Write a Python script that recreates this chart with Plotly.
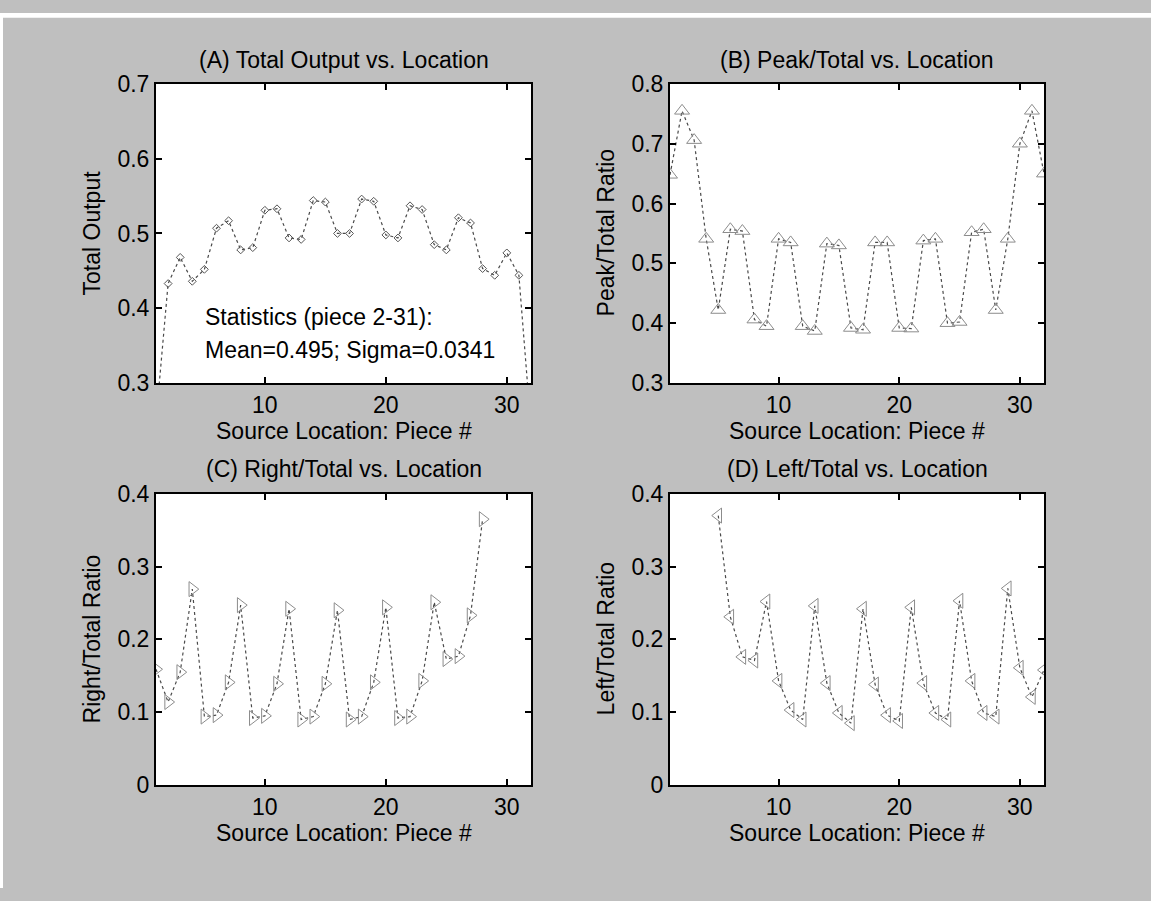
import plotly.graph_objects as go

W, H = 1151, 901

# ---------------- data ----------------
pieces = list(range(1, 33))
total_output = [0.250, 0.433, 0.468, 0.436, 0.452, 0.507, 0.517, 0.478, 0.481, 0.531,
                0.533, 0.494, 0.492, 0.544, 0.542, 0.500, 0.500, 0.546, 0.543, 0.498,
                0.494, 0.537, 0.532, 0.485, 0.478, 0.521, 0.514, 0.453, 0.444, 0.474,
                0.444, 0.240]
peak_ratio = [0.648, 0.755, 0.706, 0.541, 0.422, 0.557, 0.554, 0.406, 0.395, 0.541,
              0.535, 0.395, 0.387, 0.533, 0.530, 0.392, 0.389, 0.535, 0.535, 0.392,
              0.391, 0.538, 0.541, 0.400, 0.402, 0.552, 0.557, 0.422, 0.541, 0.700,
              0.755, 0.650]
right_pieces = list(range(1, 29))
right_ratio = [0.159, 0.114, 0.155, 0.269, 0.094, 0.096, 0.141, 0.247, 0.092, 0.095,
               0.139, 0.242, 0.090, 0.094, 0.139, 0.240, 0.090, 0.094, 0.141, 0.244,
               0.092, 0.094, 0.143, 0.251, 0.173, 0.177, 0.233, 0.365]
left_pieces = list(range(5, 33))
left_ratio = [0.370, 0.231, 0.176, 0.171, 0.252, 0.143, 0.103, 0.090, 0.246, 0.140,
              0.099, 0.085, 0.242, 0.138, 0.096, 0.088, 0.244, 0.140, 0.099, 0.090,
              0.253, 0.143, 0.099, 0.094, 0.270, 0.161, 0.121, 0.158]

x_ticks = [10, 20, 30]
yticks_A = [0.3, 0.4, 0.5, 0.6, 0.7]
yticks_B = [0.3, 0.4, 0.5, 0.6, 0.7, 0.8]
yticks_CD = [0, 0.1, 0.2, 0.3, 0.4]

titles = ["(A) Total Output vs. Location", "(B) Peak/Total vs. Location",
          "(C) Right/Total vs. Location", "(D) Left/Total vs. Location"]
ylabels = ["Total Output", "Peak/Total Ratio", "Right/Total Ratio", "Left/Total Ratio"]
xlabel = "Source Location: Piece #"
stats_lines = ["Statistics (piece 2-31):", "Mean=0.495; Sigma=0.0341"]

# ---------------- layout geometry (pixels) ----------------
FONT = "Liberation Sans, Arial, sans-serif"
FS = 23
cols = [(156, 531), (670, 1044)]
rows = [(73, 381), (495, 795)]


def px_x(p):
    return p / W


def px_y(p):
    return 1 - p / H


LINE_COLOR = "#4a4a4a"
MARK_COLOR = "#8c8c8c"

fig = go.Figure()

fig.add_trace(go.Scatter(
    x=pieces, y=total_output, mode="lines+markers", xaxis="x", yaxis="y",
    line=dict(color=LINE_COLOR, width=1.2, dash="dot"),
    marker=dict(symbol="diamond-open", size=6, color="#555555", line=dict(width=1)),
    showlegend=False))
fig.add_trace(go.Scatter(
    x=pieces, y=peak_ratio, mode="lines+markers", xaxis="x2", yaxis="y2",
    line=dict(color=LINE_COLOR, width=1.2, dash="dot"),
    marker=dict(symbol="triangle-up-open", size=13, color=MARK_COLOR, line=dict(width=1)),
    showlegend=False))
fig.add_trace(go.Scatter(
    x=right_pieces, y=right_ratio, mode="lines+markers", xaxis="x3", yaxis="y3",
    line=dict(color=LINE_COLOR, width=1.2, dash="dot"),
    marker=dict(symbol="triangle-right-open", size=13, color=MARK_COLOR, line=dict(width=1)),
    showlegend=False))
fig.add_trace(go.Scatter(
    x=left_pieces, y=left_ratio, mode="lines+markers", xaxis="x4", yaxis="y4",
    line=dict(color=LINE_COLOR, width=1.2, dash="dot"),
    marker=dict(symbol="triangle-left-open", size=13, color=MARK_COLOR, line=dict(width=1)),
    showlegend=False))

axis_common = dict(showline=True, linecolor="black", linewidth=2, mirror="ticks",
                   ticks="inside", ticklen=6, tickwidth=1.5, tickcolor="black",
                   showgrid=False, zeroline=False,
                   tickfont=dict(family=FONT, size=FS, color="black"))

layout = dict(width=W, height=H, margin=dict(l=0, r=0, t=0, b=0),
              paper_bgcolor="#bfbfbf", plot_bgcolor="white",
              font=dict(family=FONT, size=FS, color="black"), showlegend=False)

specs = [("x", "y", 0, 0, yticks_A, [0.3, 0.7]),
         ("x2", "y2", 1, 0, yticks_B, [0.3, 0.8]),
         ("x3", "y3", 0, 1, yticks_CD, [0, 0.4]),
         ("x4", "y4", 1, 1, yticks_CD, [0, 0.4])]

annotations = []
for i, (xa, ya, c, r, yt, yr) in enumerate(specs):
    x0, x1 = cols[c]
    y0, y1 = rows[r]
    xkey = "xaxis" if xa == "x" else "xaxis" + xa[1:]
    ykey = "yaxis" if ya == "y" else "yaxis" + ya[1:]
    layout[xkey] = dict(domain=[px_x(x0), px_x(x1)], range=[1, 32], tickvals=x_ticks,
                        anchor=ya, **axis_common)
    layout[ykey] = dict(domain=[px_y(y1), px_y(y0)], range=yr, tickvals=yt,
                        anchor=xa, **axis_common)
    annotations.append(dict(text=titles[i], xref="paper", yref="paper",
                            x=px_x((x0 + x1) / 2), y=px_y(y0 - 25), xanchor="center",
                            yanchor="middle", showarrow=False,
                            font=dict(family=FONT, size=FS, color="black")))
    annotations.append(dict(text=xlabel, xref="paper", yref="paper",
                            x=px_x((x0 + x1) / 2), y=px_y(y1 + 49), xanchor="center",
                            yanchor="middle", showarrow=False,
                            font=dict(family=FONT, size=FS, color="black")))
    annotations.append(dict(text=ylabels[i], xref="paper", yref="paper",
                            x=px_x(x0 - 64), y=px_y((y0 + y1) / 2), xanchor="center",
                            yanchor="middle", textangle=-90, showarrow=False,
                            font=dict(family=FONT, size=FS, color="black")))

for k, line in enumerate(stats_lines):
    annotations.append(dict(text=line, xref="paper", yref="paper",
                            x=px_x(203), y=px_y(313 + 34 * k), xanchor="left",
                            yanchor="middle", showarrow=False,
                            font=dict(family=FONT, size=FS, color="black")))

layout["annotations"] = annotations
layout["shapes"] = [
    dict(type="rect", xref="paper", yref="paper", x0=0, x1=1, y0=px_y(5), y1=1,
         fillcolor="white", line=dict(width=0), layer="above"),
    dict(type="rect", xref="paper", yref="paper", x0=0, x1=px_x(3), y0=0, y1=1,
         fillcolor="white", line=dict(width=0), layer="above"),
]

fig.update_layout(**layout)
fig.write_html("out.html")
